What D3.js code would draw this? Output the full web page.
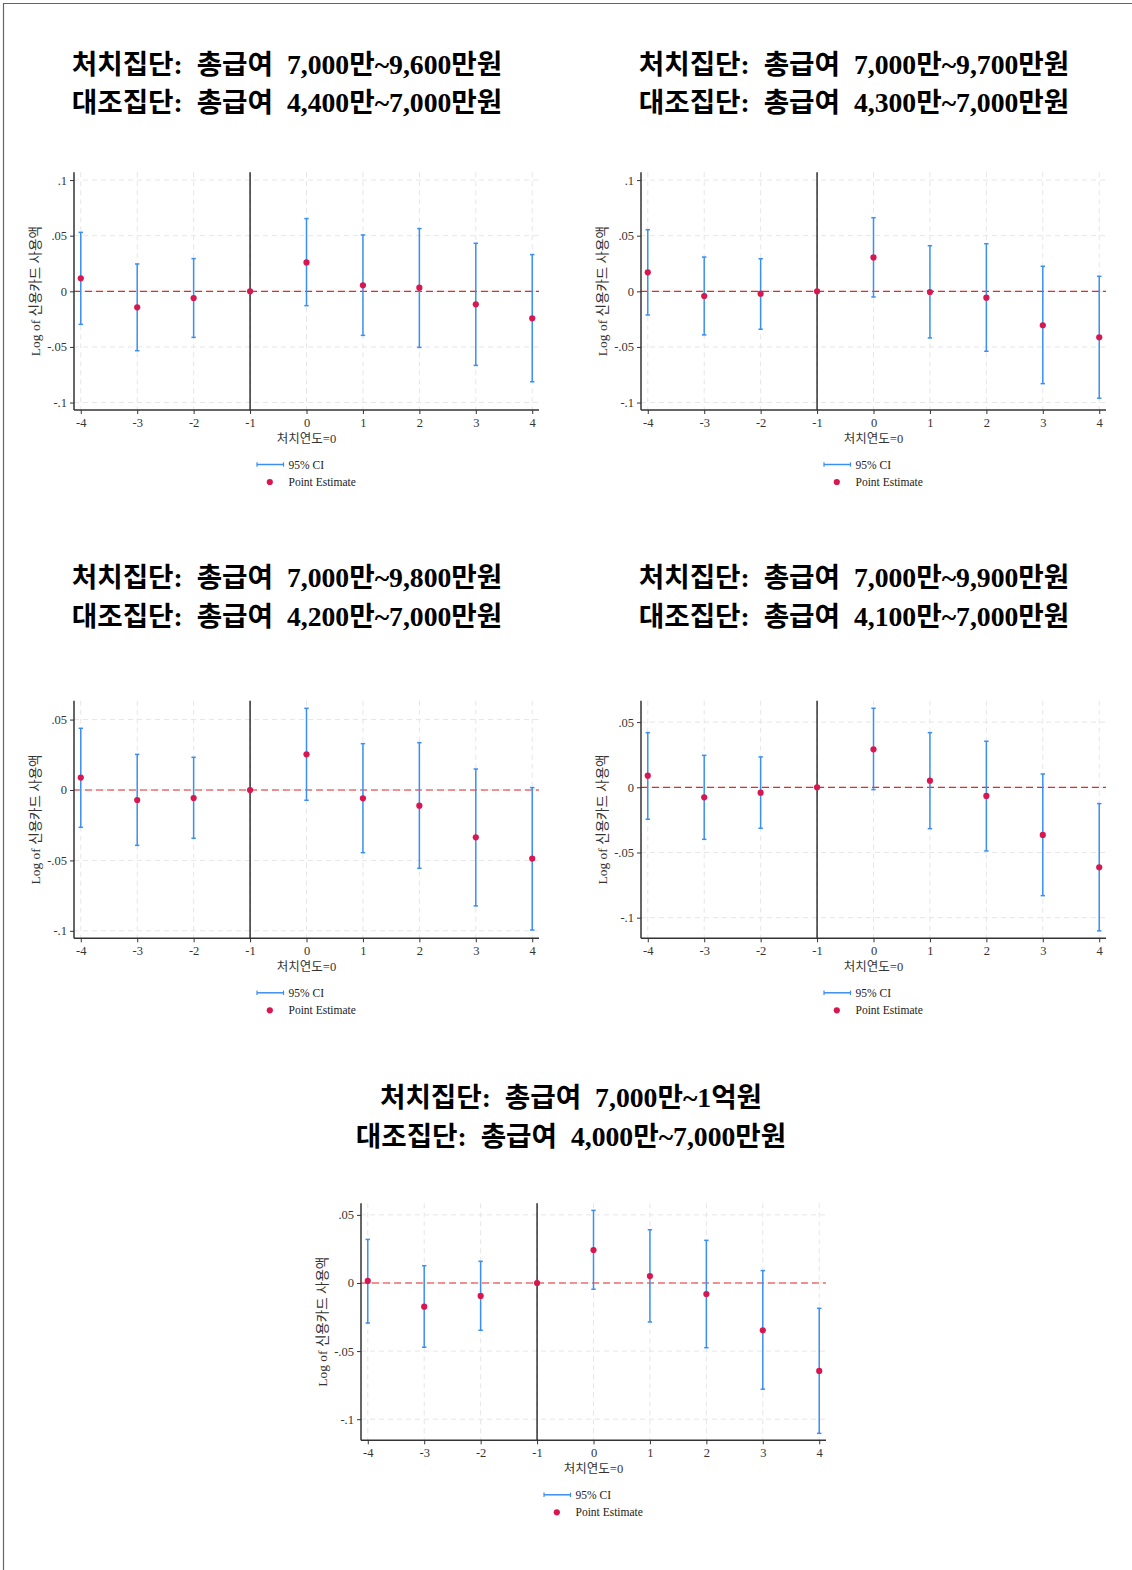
<!DOCTYPE html>
<html><head><meta charset="utf-8">
<script src="https://cdn.jsdelivr.net/npm/d3@7"></script>
<style>
body{margin:0;background:#fff;}
svg{display:block;}
text{white-space:pre;}
</style></head>
<body>
<svg id="chart" width="1132" height="1570"></svg>
<script>
// ---------------- data ----------------
const years = [-4, -3, -2, -1, 0, 1, 2, 3, 4];
const xTickLabels = ["-4", "-3", "-2", "-1", "0", "1", "2", "3", "4"];

const titleTreat = [
  "처치집단:  총급여  7,000만~9,600만원",
  "처치집단:  총급여  7,000만~9,700만원",
  "처치집단:  총급여  7,000만~9,800만원",
  "처치집단:  총급여  7,000만~9,900만원",
  "처치집단:  총급여  7,000만~1억원"
];
const titleControl = [
  "대조집단:  총급여  4,400만~7,000만원",
  "대조집단:  총급여  4,300만~7,000만원",
  "대조집단:  총급여  4,200만~7,000만원",
  "대조집단:  총급여  4,100만~7,000만원",
  "대조집단:  총급여  4,000만~7,000만원"
];

const est1 = [0.0117, -0.0144, -0.0060, 0, 0.0260, 0.0054, 0.0033, -0.0117, -0.0243];
const lo1  = [-0.0297, -0.0534, -0.0414, 0, -0.0129, -0.0396, -0.0504, -0.0666, -0.0813];
const hi1  = [0.0530, 0.0246, 0.0294, 0, 0.0654, 0.0507, 0.0564, 0.0432, 0.0330];

const est2 = [0.0171, -0.0042, -0.0021, 0, 0.0305, -0.0006, -0.0057, -0.0305, -0.0413];
const lo2  = [-0.0213, -0.0392, -0.0341, 0, -0.0051, -0.0419, -0.0539, -0.0830, -0.0961];
const hi2  = [0.0554, 0.0308, 0.0293, 0, 0.0662, 0.0410, 0.0428, 0.0225, 0.0135];

const est3 = [0.0088, -0.0071, -0.0057, 0, 0.0253, -0.0059, -0.0111, -0.0336, -0.0487];
const lo3  = [-0.0265, -0.0393, -0.0343, 0, -0.0073, -0.0445, -0.0556, -0.0823, -0.0994];
const hi3  = [0.0438, 0.0253, 0.0232, 0, 0.0580, 0.0329, 0.0336, 0.0149, 0.0017];

const est4 = [0.0089, -0.0077, -0.0041, 0, 0.0291, 0.0051, -0.0066, -0.0365, -0.0613];
const lo4  = [-0.0245, -0.0399, -0.0314, 0, -0.0018, -0.0317, -0.0488, -0.0831, -0.1101];
const hi4  = [0.0419, 0.0245, 0.0233, 0, 0.0606, 0.0419, 0.0353, 0.0102, -0.0125];

const est5 = [0.0015, -0.0174, -0.0095, 0, 0.0242, 0.0051, -0.0081, -0.0347, -0.0646];
const lo5  = [-0.0294, -0.0472, -0.0347, 0, -0.0046, -0.0286, -0.0475, -0.0780, -0.1104];
const hi5  = [0.0320, 0.0127, 0.0159, 0, 0.0533, 0.0391, 0.0313, 0.0091, -0.0186];

const yTicksA = [-0.1, -0.05, 0, 0.05, 0.1];
const yTickLabelsA = ["-.1", "-.05", "0", ".05", ".1"];
const yTicksB = [-0.1, -0.05, 0, 0.05];
const yTickLabelsB = ["-.1", "-.05", "0", ".05"];

const yDomains = [[-0.1067, 0.107], [-0.1067, 0.107], [-0.1053, 0.0634], [-0.1158, 0.0664], [-0.1155, 0.0585]];

const yAxisTitle = "Log of 신용카드 사용액";
const xAxisTitle = "처치연도=0";
const legendCI = "95% CI";
const legendPt = "Point Estimate";

// ---------------- layout ----------------
const panels = [
  {est: est1, lo: lo1, hi: hi1, yT: yTicksA, yL: yTickLabelsA, left: 74, top: 172.3, bottom: 410, tcx: 287, ty: 64},
  {est: est2, lo: lo2, hi: hi2, yT: yTicksA, yL: yTickLabelsA, left: 641, top: 172.3, bottom: 410, tcx: 854, ty: 64},
  {est: est3, lo: lo3, hi: hi3, yT: yTicksB, yL: yTickLabelsB, left: 74, top: 700.7, bottom: 938.3, tcx: 287, ty: 577.5},
  {est: est4, lo: lo4, hi: hi4, yT: yTicksB, yL: yTickLabelsB, left: 641, top: 700.7, bottom: 938.3, tcx: 854, ty: 577.5},
  {est: est5, lo: lo5, hi: hi5, yT: yTicksB, yL: yTickLabelsB, left: 361, top: 1203.3, bottom: 1440.3, tcx: 571, ty: 1097.5}
];
const plotW = 465;

const svg = d3.select("#chart");
svg.append("rect").attr("width", 1132).attr("height", 1570).attr("fill", "#fff");
// outer frame (left and top)
svg.append("line").attr("x1", 3.5).attr("x2", 3.5).attr("y1", 3).attr("y2", 1570).attr("stroke", "#666").attr("stroke-width", 1.2);
svg.append("line").attr("x1", 3).attr("x2", 1132).attr("y1", 3.5).attr("y2", 3.5).attr("stroke", "#666").attr("stroke-width", 1.2);

const serif = "'Liberation Serif', 'Times New Roman', 'Noto Sans CJK KR', serif";
const titleFont = "'Liberation Serif', 'Noto Sans CJK KR', serif";
const axisGray = "#333";
const blue = "#3b8ff2";
const red = "#d8164f";

panels.forEach((p, i) => {
  const g = svg.append("g");
  const x = d3.scaleLinear().domain([-4.12, 4.12]).range([p.left, p.left + plotW]);
  const y = d3.scaleLinear().domain(yDomains[i]).range([p.bottom, p.top]);

  // Title
  [titleTreat[i], titleControl[i]].forEach((t, k) => {
    g.append("text").attr("x", p.tcx).attr("y", p.ty + k * 38.5)
      .attr("text-anchor", "middle").attr("dominant-baseline", "central")
      .attr("font-family", titleFont).attr("font-weight", "bold")
      .attr("font-size", 27.7).attr("fill", "#000").text(t);
  });

  // grid
  g.append("g").selectAll("line").data(p.yT).join("line")
    .attr("x1", p.left).attr("x2", p.left + plotW)
    .attr("y1", d => y(d)).attr("y2", d => y(d))
    .attr("stroke", "#e6e6e6").attr("stroke-width", 1).attr("stroke-dasharray", "5,4");
  g.append("g").selectAll("line").data(years).join("line")
    .attr("x1", d => x(d)).attr("x2", d => x(d))
    .attr("y1", p.top).attr("y2", p.bottom)
    .attr("stroke", "#e6e6e6").attr("stroke-width", 1).attr("stroke-dasharray", "5,4");

  // zero line
  g.append("line").attr("x1", p.left).attr("x2", p.left + plotW)
    .attr("y1", y(0)).attr("y2", y(0))
    .attr("stroke", "#e8282a").attr("stroke-width", 1.2).attr("stroke-dasharray", "7,4");
  // vertical line at -1
  g.append("line").attr("x1", x(-1)).attr("x2", x(-1))
    .attr("y1", p.top).attr("y2", p.bottom)
    .attr("stroke", "#000").attr("stroke-width", 1.2);

  // CIs
  const ciData = years.map((yr, j) => ({yr, lo: p.lo[j], hi: p.hi[j], est: p.est[j]})).filter(d => d.hi !== d.lo);
  const ci = g.append("g");
  ci.selectAll("line.v").data(ciData).join("line").attr("class", "v")
    .attr("x1", d => x(d.yr)).attr("x2", d => x(d.yr))
    .attr("y1", d => y(d.lo)).attr("y2", d => y(d.hi))
    .attr("stroke", blue).attr("stroke-width", 1.5);
  ["lo", "hi"].forEach(k => {
    ci.selectAll("line.c" + k).data(ciData).join("line").attr("class", "c" + k)
      .attr("x1", d => x(d.yr) - 2.2).attr("x2", d => x(d.yr) + 2.2)
      .attr("y1", d => y(d[k])).attr("y2", d => y(d[k]))
      .attr("stroke", blue).attr("stroke-width", 1.5);
  });
  // points
  g.append("g").selectAll("circle").data(years.map((yr, j) => ({yr, est: p.est[j]}))).join("circle")
    .attr("cx", d => x(d.yr)).attr("cy", d => y(d.est)).attr("r", 3.1).attr("fill", red);

  // axes
  const yAxis = d3.axisLeft(y).tickValues(p.yT).tickFormat((d, k) => p.yL[k]).tickSize(4).tickPadding(3);
  const ya = g.append("g").attr("transform", `translate(${p.left},0)`).call(yAxis);
  const xAxis = d3.axisBottom(x).tickValues(years).tickFormat((d, k) => xTickLabels[k]).tickSize(4).tickPadding(4);
  const xa = g.append("g").attr("transform", `translate(0,${p.bottom})`).call(xAxis);
  [ya, xa].forEach(a => {
    a.select(".domain").attr("stroke", axisGray).attr("stroke-width", 1.5).attr("d",
      a === ya ? `M0,${p.top}V${p.bottom}` : `M${p.left},0H${p.left + plotW}`);
    a.selectAll(".tick line").attr("stroke", axisGray);
    a.selectAll(".tick text").attr("font-family", serif).attr("font-size", 12.5).attr("fill", "#333");
  });

  // axis titles
  g.append("text").attr("transform", `translate(${p.left - 38.5},${(p.top + p.bottom) / 2}) rotate(-90)`)
    .attr("text-anchor", "middle").attr("dominant-baseline", "central")
    .attr("font-family", serif).attr("font-size", 13.5).attr("fill", "#333").text(yAxisTitle);
  g.append("text").attr("x", x(0)).attr("y", p.bottom + 29)
    .attr("text-anchor", "middle").attr("dominant-baseline", "central")
    .attr("font-family", serif).attr("font-size", 12.5).attr("fill", "#333").text(xAxisTitle);

  // legend
  const ly = p.bottom + 54.5, ly2 = p.bottom + 72;
  const lx0 = p.left + 183, lx1 = p.left + 209.5;
  g.append("line").attr("x1", lx0).attr("x2", lx1).attr("y1", ly).attr("y2", ly).attr("stroke", blue).attr("stroke-width", 1.5);
  [lx0, lx1].forEach(xx => g.append("line").attr("x1", xx).attr("x2", xx).attr("y1", ly - 2.2).attr("y2", ly + 2.2).attr("stroke", blue).attr("stroke-width", 1.2));
  g.append("text").attr("x", p.left + 214.5).attr("y", ly).attr("dominant-baseline", "central")
    .attr("font-family", serif).attr("font-size", 11.5).attr("fill", "#222").text(legendCI);
  g.append("circle").attr("cx", p.left + 195.8).attr("cy", ly2).attr("r", 3.1).attr("fill", red);
  g.append("text").attr("x", p.left + 214.5).attr("y", ly2).attr("dominant-baseline", "central")
    .attr("font-family", serif).attr("font-size", 11.5).attr("fill", "#222").text(legendPt);
});
</script>
</body></html>
